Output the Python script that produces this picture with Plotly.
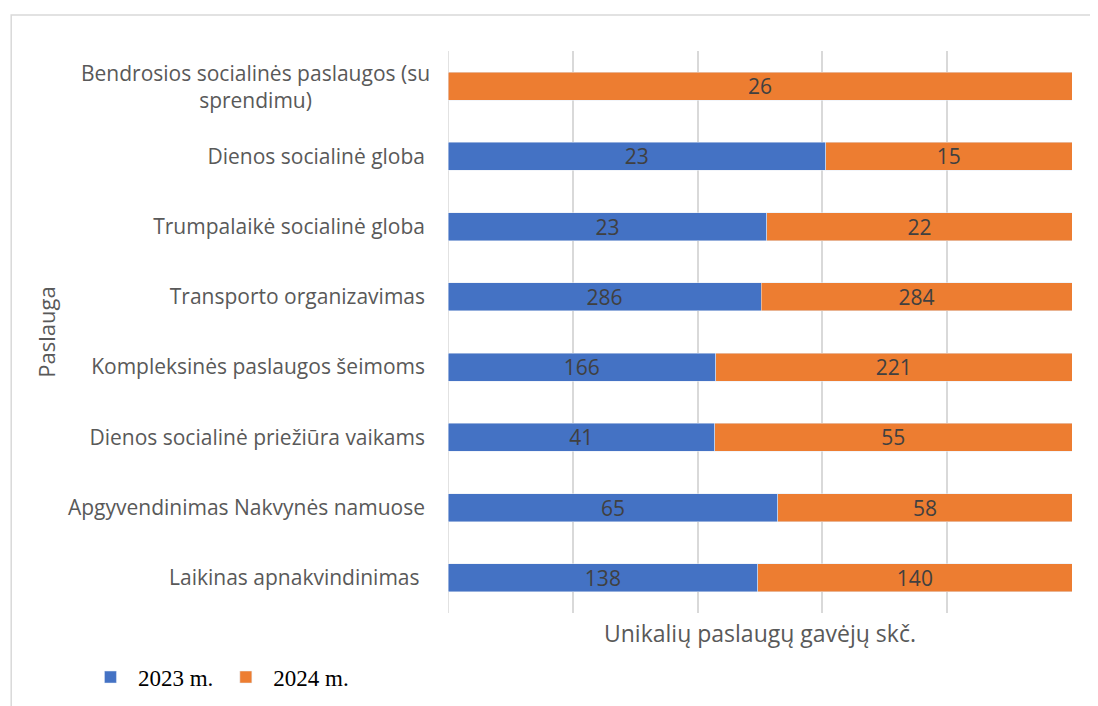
import plotly.graph_objects as go

services = [
    'Bendrosios socialinės paslaugos (su sprendimu)',
    'Dienos socialinė globa',
    'Trumpalaikė socialinė globa',
    'Transporto organizavimas',
    'Kompleksinės paslaugos šeimoms',
    'Dienos socialinė priežiūra vaikams',
    'Apgyvendinimas Nakvynės namuose',
    'Laikinas apnakvindinimas ',
]
y2023 = [None, 23, 23, 286, 166, 41, 65, 138]
y2024 = [26, 15, 22, 284, 221, 55, 58, 140]

label_font = dict(family='Open Sans', size=21, color='#404040')

fig = go.Figure()
fig.add_trace(go.Bar(
    y=services, x=y2023, name='2023 m.', orientation='h',
    marker_color='#4472C4', text=y2023, textposition='inside',
    insidetextanchor='middle', textangle=0, constraintext='none', width=0.4,
    textfont=label_font,
))
fig.add_trace(go.Bar(
    y=services, x=y2024, name='2024 m.', orientation='h',
    marker_color='#ED7D31', text=y2024, textposition='inside',
    insidetextanchor='middle', textangle=0, constraintext='none', width=0.4,
    textfont=label_font,
))

# first label is wrapped and centred, drawn as an annotation
ticktext = [''] + services[1:]

fig.update_layout(
    width=1098, height=706,
    barmode='stack', barnorm='percent',
    plot_bgcolor='white', paper_bgcolor='white',
    margin=dict(l=440, r=34, t=43, b=101),
    font=dict(family='Open Sans', size=21, color='#595959'),
    showlegend=True,
    legend=dict(
        orientation='h', x=-0.585, y=-0.114, xanchor='left', yanchor='middle',
        font=dict(family='Liberation Serif', size=23, color='#000000'),
        itemwidth=45, traceorder='normal',
    ),
    xaxis=dict(
        range=[0, 100], dtick=20, showticklabels=False,
        showgrid=True, gridcolor='#d9d9d9', gridwidth=1.5,
        zeroline=False, showline=False,
        title=dict(text='Unikalių paslaugų gavėjų skč.', standoff=12,
                   font=dict(family='Open Sans', size=23, color='#595959')),
    ),
    yaxis=dict(
        autorange='reversed', showgrid=False, showline=False,
        ticks='', tickmode='array', tickvals=services, ticktext=ticktext,
        ticklabelstandoff=22,
        tickfont=dict(family='Open Sans', size=21, color='#595959'),
    ),
)

fig.add_annotation(
    text='Bendrosios socialinės paslaugos (su<br>sprendimu)',
    xref='paper', yref='y', x=-16 / 624, y=services[0],
    xanchor='right', yanchor='middle', align='center', showarrow=False,
    font=dict(family='Open Sans', size=21, color='#595959'),
)

fig.add_shape(type='line', xref='x', yref='paper', x0=0, x1=0, y0=0, y1=1,
              line=dict(color='#d9d9d9', width=1.5), layer='below')

fig.add_annotation(
    text='Paslauga', xref='paper', yref='paper', x=-0.672, y=0.5,
    textangle=-90, showarrow=False,
    font=dict(family='Open Sans', size=22, color='#595959'),
)

# chart frame
fig.add_shape(type='rect', xref='paper', yref='paper',
              x0=-0.700, x1=1.2, y0=-0.3, y1=1.064,
              line=dict(color='#d9d9d9', width=1.5), layer='below')

fig.write_html('out.html')
